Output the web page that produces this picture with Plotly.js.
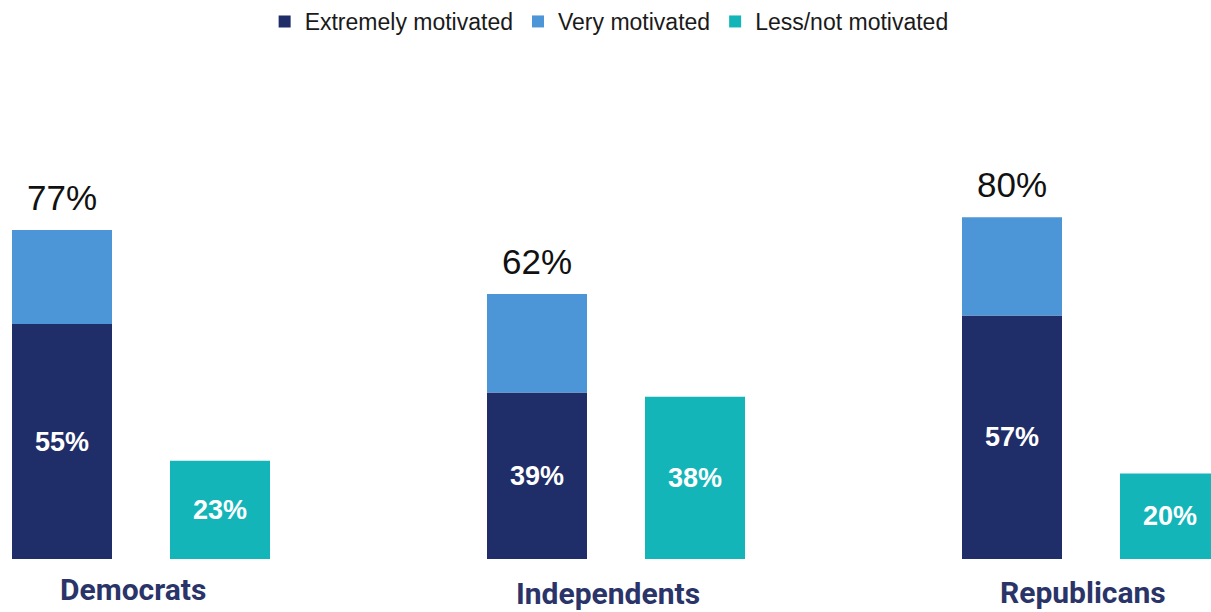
<!DOCTYPE html>
<html>
<head>
<meta charset="utf-8">
<script src="https://cdn.plot.ly/plotly-3.0.1.min.js"></script>
<style>html,body{margin:0;padding:0;background:#fff;}#chart{width:1211px;height:612px;}</style>
</head>
<body>
<div id="chart"></div>
<script>
var categories = ["Democrats", "Independents", "Republicans"];
var extremely = [55, 39, 57];
var very = [22, 23, 23];
var lessNot = [23, 38, 20];
var seriesNames = ["Extremely motivated", "Very motivated", "Less/not motivated"];

var totals = extremely.map(function (v, i) { return v + very[i]; });

var cNavy = "#1f2d68", cBlue = "#4c95d7", cTeal = "#14b5b9", cLabel = "#2a3468";
var unit = 475;            // px per category step
var bw = 100 / unit;       // bar width in axis units
var offA = -129.5 / unit;  // stacked bar offset
var offB = 28.5 / unit;    // less/not bar offset

var traces = [
  {
    type: "bar", name: seriesNames[0], x: categories, y: extremely,
    width: bw, offset: offA, marker: {color: cNavy},
    text: extremely.map(function (v) { return v + "%"; }),
    textposition: "inside", insidetextanchor: "middle",
    textfont: {family: "Liberation Sans, Arial, sans-serif", size: 27, color: "#ffffff", weight: "bold"},
    hoverinfo: "none"
  },
  {
    type: "bar", name: seriesNames[1], x: categories, y: very, base: extremely,
    width: bw, offset: offA, marker: {color: cBlue},
    hoverinfo: "none"
  },
  {
    type: "bar", name: seriesNames[2], x: categories, y: lessNot,
    width: bw, offset: offB, marker: {color: cTeal},
    text: lessNot.map(function (v) { return v + "%"; }),
    textposition: "inside", insidetextanchor: "middle",
    textfont: {family: "Liberation Sans, Arial, sans-serif", size: 27, color: "#ffffff", weight: "bold"},
    hoverinfo: "none"
  }
];

var annotations = [];
categories.forEach(function (c, i) {
  annotations.push({
    xref: "x", yref: "y", x: c, y: totals[i], text: totals[i] + "%",
    xshift: -79.5, yshift: 11, yanchor: "bottom", xanchor: "center", showarrow: false,
    font: {family: "Liberation Sans, Arial, sans-serif", size: 35, color: "#111111"}
  });
});
var labelShift = [-12, -16, -15];
categories.forEach(function (c, i) {
  annotations.push({
    xref: "x", yref: "paper", x: c, y: 0, text: c,
    xshift: -9, yshift: labelShift[i], yanchor: "top", xanchor: "center", showarrow: false,
    borderpad: 0,
    font: {family: "Roboto, Liberation Sans, sans-serif", size: 30, color: cLabel, weight: "bold"}
  });
});

var layout = {
  width: 1211, height: 612,
  margin: {l: 0, r: 0, t: 0, b: 53, pad: 0},
  paper_bgcolor: "#ffffff", plot_bgcolor: "#ffffff",
  barmode: "overlay",
  showlegend: true,
  legend: {
    orientation: "h", x: 0.503, xanchor: "center", y: 0.9624, yanchor: "middle",
    font: {family: "Liberation Sans, Arial, sans-serif", size: 23, color: "#1a1a1a"},
    itemwidth: 30, traceorder: "normal", tracegroupgap: 0
  },
  xaxis: {
    type: "category", range: [-141.5 / unit, (1211 - 141.5) / unit],
    showticklabels: false, showgrid: false, zeroline: false, showline: false, ticks: ""
  },
  yaxis: {
    range: [0, 559 / 4.28], showticklabels: false, showgrid: false, zeroline: false, showline: false, ticks: ""
  },
  annotations: annotations
};

Plotly.newPlot("chart", traces, layout, {displayModeBar: false, staticPlot: true});
</script>
</body>
</html>
